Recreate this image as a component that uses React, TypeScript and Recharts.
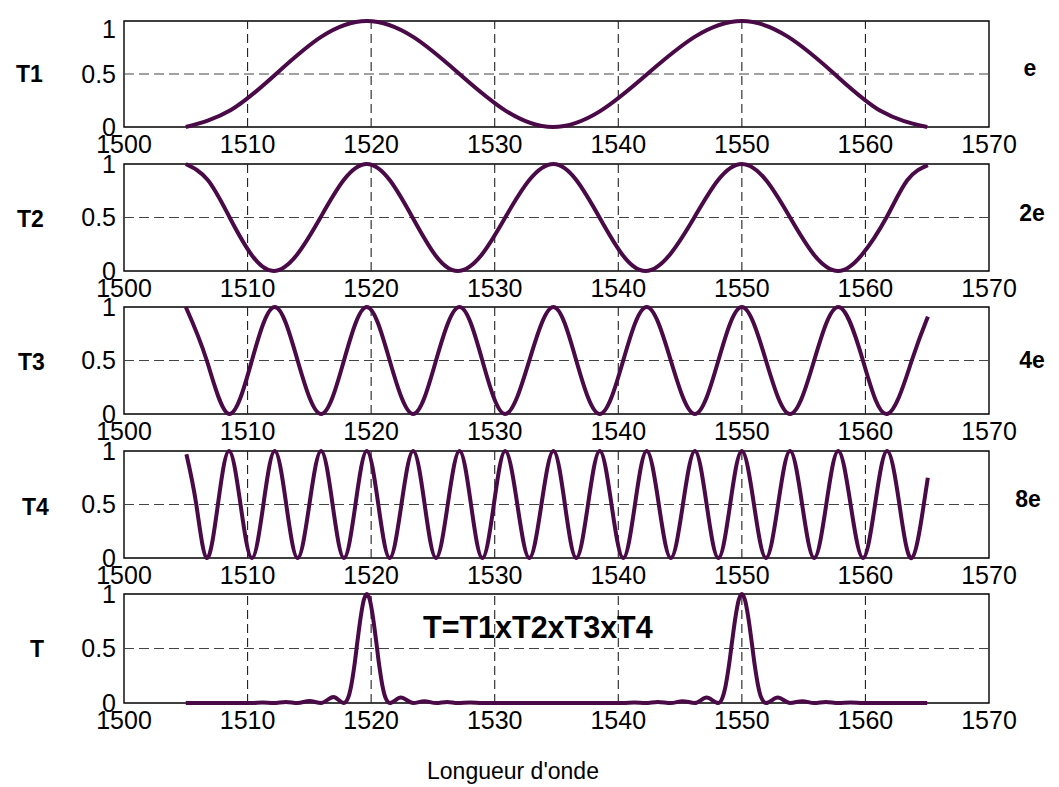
import React from 'react';
import { LineChart, Line, XAxis, YAxis, ReferenceLine, ReferenceArea } from 'recharts';

const FONT = "'Liberation Sans', Arial, Helvetica, sans-serif";
const LINE = '#4a0a48';

const xTicks = [1500, 1510, 1520, 1530, 1540, 1550, 1560, 1570];
const gridX = [1510, 1520, 1530, 1540, 1550, 1560];
const yTicks = [0, 0.5, 1];

const t1Wl = [1505, 1508.65, 1512.3, 1515.95, 1519.65, 1523.4, 1527.15, 1530.93, 1534.7, 1538.53, 1542.35, 1546.18, 1550, 1553.75, 1557.5, 1561.25, 1565];
const t1Val = [0, 0.16, 0.5, 0.85, 1, 0.85, 0.5, 0.15, 0, 0.15, 0.5, 0.85, 1, 0.85, 0.5, 0.15, 0];

const t2Wl = [1505, 1506.78, 1508.55, 1510.33, 1512.1, 1513.98, 1515.9, 1517.78, 1519.65, 1521.5, 1523.35, 1525.18, 1527.0, 1528.93, 1530.85, 1532.8, 1534.75, 1536.6, 1538.48, 1540.35, 1542.2, 1544.15, 1546.15, 1548.08, 1550.0, 1551.95, 1553.9, 1555.85, 1557.8, 1559.7, 1561.7, 1563.4, 1565.05];
const t2Val = [1, 0.85, 0.5, 0.15, 0, 0.15, 0.5, 0.85, 1, 0.85, 0.5, 0.15, 0, 0.15, 0.5, 0.85, 1, 0.85, 0.5, 0.15, 0, 0.15, 0.5, 0.85, 1, 0.85, 0.5, 0.15, 0, 0.15, 0.5, 0.85, 0.99];

const t3Wl = [1505.0, 1506.7, 1508.5, 1510.35, 1512.2, 1514.05, 1515.95, 1517.8, 1519.65, 1521.5, 1523.4, 1525.25, 1527.15, 1529.0, 1530.85, 1532.8, 1534.75, 1536.6, 1538.5, 1540.4, 1542.3, 1544.25, 1546.2, 1548.1, 1550.0, 1551.95, 1553.9, 1555.85, 1557.8, 1559.8, 1561.75, 1563.75, 1565.05];
const t3Val = [1, 0.5, 0, 0.5, 1, 0.5, 0, 0.5, 1, 0.5, 0, 0.5, 1, 0.5, 0, 0.5, 1, 0.5, 0, 0.5, 1, 0.5, 0, 0.5, 1, 0.5, 0, 0.5, 1, 0.5, 0, 0.5, 0.91];

const t4Wl = [1505.05, 1505.85, 1506.7, 1507.6, 1508.5, 1509.43, 1510.35, 1511.28, 1512.2, 1513.13, 1514.05, 1515.0, 1515.95, 1516.88, 1517.8, 1518.73, 1519.65, 1520.58, 1521.5, 1522.45, 1523.4, 1524.33, 1525.25, 1526.2, 1527.15, 1528.08, 1529.0, 1529.93, 1530.85, 1531.83, 1532.8, 1533.78, 1534.75, 1535.68, 1536.6, 1537.55, 1538.5, 1539.45, 1540.4, 1541.35, 1542.3, 1543.28, 1544.25, 1545.23, 1546.2, 1547.15, 1548.1, 1549.05, 1550.0, 1550.98, 1551.95, 1552.93, 1553.9, 1554.88, 1555.85, 1556.83, 1557.8, 1558.8, 1559.8, 1560.78, 1561.75, 1562.75, 1563.75, 1564.72, 1565.05];
const t4Val = [0.97, 0.5, 0, 0.5, 1, 0.5, 0, 0.5, 1, 0.5, 0, 0.5, 1, 0.5, 0, 0.5, 1, 0.5, 0, 0.5, 1, 0.5, 0, 0.5, 1, 0.5, 0, 0.5, 1, 0.5, 0, 0.5, 1, 0.5, 0, 0.5, 1, 0.5, 0, 0.5, 1, 0.5, 0, 0.5, 1, 0.5, 0, 0.5, 1, 0.5, 0, 0.5, 1, 0.5, 0, 0.5, 1, 0.5, 0, 0.5, 1, 0.5, 0, 0.5, 0.75];

const tWl = [1505, 1510.35, 1511.2, 1512.1, 1513.1, 1514.05, 1515.0, 1515.95, 1516.95, 1517.8, 1518.15, 1518.4, 1518.65, 1518.9, 1519.15, 1519.4, 1519.65, 1519.9, 1520.15, 1520.4, 1520.65, 1520.9, 1521.15, 1521.5, 1522.4, 1523.4, 1524.3, 1525.25, 1526.15, 1527.0, 1528.0, 1529.0, 1540.4, 1541.3, 1542.2, 1543.2, 1544.25, 1545.2, 1546.2, 1547.15, 1548.1, 1548.44, 1548.7, 1548.96, 1549.22, 1549.48, 1549.74, 1550.0, 1550.26, 1550.52, 1550.78, 1551.04, 1551.3, 1551.56, 1551.95, 1552.9, 1553.9, 1554.9, 1555.85, 1556.8, 1557.8, 1558.8, 1559.8, 1565];
const tVal = [0, 0, 0.005, 0, 0.01, 0, 0.018, 0, 0.055, 0, 0.052, 0.167, 0.348, 0.573, 0.785, 0.942, 1, 0.942, 0.785, 0.573, 0.348, 0.167, 0.052, 0, 0.05, 0, 0.017, 0, 0.01, 0, 0.005, 0, 0, 0.005, 0, 0.01, 0, 0.017, 0, 0.05, 0, 0.052, 0.167, 0.348, 0.573, 0.785, 0.942, 1, 0.942, 0.785, 0.573, 0.348, 0.167, 0.052, 0, 0.05, 0, 0.017, 0, 0.01, 0, 0.005, 0, 0];

const leftLabels = ['T1', 'T2', 'T3', 'T4', 'T'];
const rightLabels = ['e', '2e', '4e', '8e', ''];

const zip = (wl: number[], v: number[]) => wl.map((x, i) => ({ x, y: v[i] }));

const YTick = (shiftTop: number) => (props: any) => {
  const { x, y, payload } = props;
  const dy = payload.value === 1 ? shiftTop : 0;
  return (
    <text x={x} y={y + dy} textAnchor="end" dy="0.355em" fontSize={25} fontFamily={FONT} fill="#000">
      {payload.value}
    </text>
  );
};

function Panel({ top, bottom, data, curve, shiftTop }: { top: number; bottom: number; data: { x: number; y: number }[]; curve: any; shiftTop: number }) {
  const mt = top > 20 ? 20 : top, mb = 4, xh = 40, yw = 60;
  const h = bottom - top + mt + mb + xh;
  return (
    <div style={{ position: 'absolute', left: 0, top: top - mt }}>
      <LineChart width={1059} height={h} data={data} margin={{ top: mt, right: 70, bottom: mb, left: 124 - yw }} style={{ overflow: 'visible' }}>
        <XAxis dataKey="x" type="number" domain={[1500, 1570]} ticks={xTicks} interval={0} axisLine={false} tickLine={false} tickSize={0} tickMargin={8} height={xh} tick={{ fontSize: 25, fill: '#000', fontFamily: FONT }} />
        <YAxis type="number" domain={[0, 1]} ticks={yTicks} interval={0} width={yw} axisLine={false} tickLine={false} tickSize={0} tickMargin={8} tick={YTick(shiftTop)} />
        {gridX.map((v) => (
          <ReferenceLine key={v} x={v} stroke="#222" strokeDasharray="9 5" strokeWidth={1.1} />
        ))}
        <ReferenceLine y={0.5} stroke="#444" strokeDasharray="10 5" strokeWidth={1.1} />
        <ReferenceArea x1={1500} x2={1570} y1={0} y2={1} fill="none" fillOpacity={0} stroke="#000" strokeWidth={1.4} />
        <Line type={curve} dataKey="y" stroke={LINE} strokeWidth={4} dot={false} isAnimationActive={false} />
      </LineChart>
    </div>
  );
}

const panels = [
  { top: 21, bottom: 127, data: zip(t1Wl, t1Val), curve: 'natural', shiftTop: 8 },
  { top: 164, bottom: 271, data: zip(t2Wl, t2Val), curve: 'natural', shiftTop: 0 },
  { top: 307, bottom: 414, data: zip(t3Wl, t3Val), curve: 'natural', shiftTop: 0 },
  { top: 451, bottom: 558, data: zip(t4Wl, t4Val), curve: 'natural', shiftTop: 0 },
  { top: 594, bottom: 703, data: zip(tWl, tVal), curve: 'monotone', shiftTop: 0 },
];

const leftPos = [
  { x: 16, y: 74 },
  { x: 17, y: 219 },
  { x: 18, y: 362 },
  { x: 22, y: 507 },
  { x: 30, y: 649 },
];
const rightPos = [
  { x: 1030, y: 68 },
  { x: 1032, y: 213 },
  { x: 1032, y: 360 },
  { x: 1028, y: 499 },
  { x: 1030, y: 640 },
];

export default function App() {
  return (
    <div style={{ position: 'absolute', left: 0, top: 0, width: 1059, height: 787, background: '#fff', overflow: 'hidden' }}>
      {panels.map((p, i) => (
        <Panel key={i} {...p} />
      ))}
      <svg width={1059} height={787} style={{ position: 'absolute', left: 0, top: 0, pointerEvents: 'none' }}>
        {leftLabels.map((t, i) => (
          <text key={'l' + i} x={leftPos[i].x} y={leftPos[i].y} dominantBaseline="central" fontSize={23} fontWeight="bold" fontFamily={FONT} fill="#000">
            {t}
          </text>
        ))}
        {rightLabels.map((t, i) => (
          <text key={'r' + i} x={rightPos[i].x} y={rightPos[i].y} textAnchor="middle" dominantBaseline="central" fontSize={23} fontWeight="bold" fontFamily={FONT} fill="#000">
            {t}
          </text>
        ))}
        <text x={423} y={627} dominantBaseline="central" fontSize={30.5} fontWeight="bold" fontFamily={FONT} fill="#000">
          T=T1xT2xT3xT4
        </text>
        <text x={513} y={771} textAnchor="middle" dominantBaseline="central" fontSize={23} fontFamily={FONT} fill="#000">
          Longueur d'onde
        </text>
      </svg>
    </div>
  );
}
